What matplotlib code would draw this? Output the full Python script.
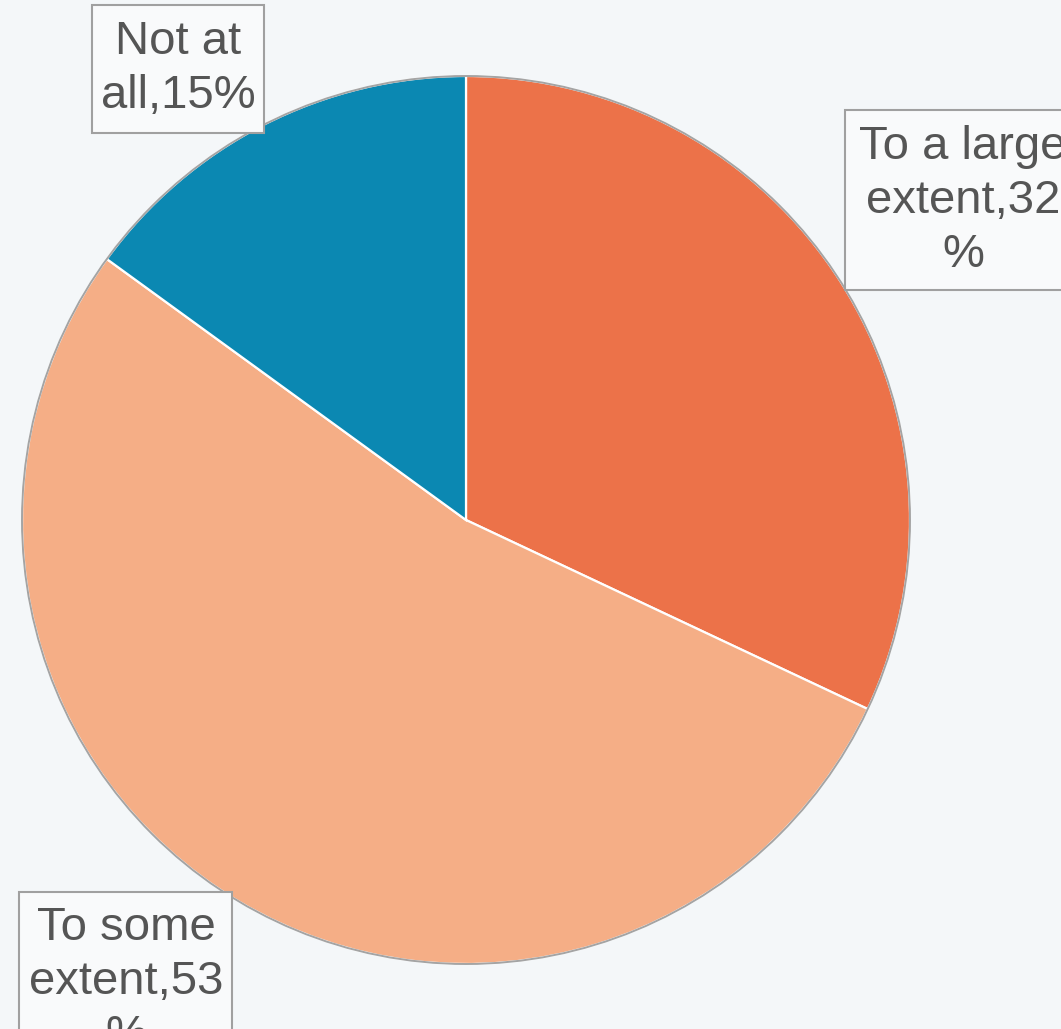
import numpy as np
import matplotlib.pyplot as plt
from matplotlib.patches import Circle, Rectangle

# survey answers, clockwise from 12 o'clock
labels = ['To a large\nextent,32\n%', 'To some\nextent,53\n%', 'Not at\nall,15%']
shares = [32, 53, 15]
colors = ['#EC7249', '#F5AE86', '#0B88B2']

W, H = 1061, 1029
fig = plt.figure(figsize=(W / 100, H / 100), dpi=100, facecolor='#F4F7F9')
ax = fig.add_axes([0, 0, 1, 1])
ax.set_facecolor('#F4F7F9')

cx, cy, r = 466, H - 520, 444
ax.pie(shares, colors=colors, startangle=90, counterclock=False,
       center=(cx, cy), radius=r,
       wedgeprops=dict(edgecolor='white', linewidth=1.6))
ax.add_patch(Circle((cx, cy), r, fill=False, edgecolor='#A4A4A4', linewidth=1.4))

ax.set_xlim(0, W)
ax.set_ylim(0, H)
ax.set_aspect('equal')
ax.axis('off')

# label boxes in picture pixels: text centre, then box left/top/right/bottom
label_pos = [(963, 201), (126, 982), (178, 69)]
boxes = [(845, 110, 1075, 290), (19, 892, 232, 1045), (92, 5, 264, 133)]
for txt, (x, y), (x0, y0, x1, y1) in zip(labels, label_pos, boxes):
    ax.add_patch(Rectangle((x0, H - y1), x1 - x0, y1 - y0, facecolor='#F9FAFB',
                           edgecolor='#A0A0A0', linewidth=1.5, zorder=3))
    ax.text(x, H - y, txt, ha='center', va='center', fontsize=34,
            family='Liberation Sans', color='#555555', linespacing=1.3,
            zorder=4)

fig.savefig('out.png', dpi=100, facecolor=fig.get_facecolor())
